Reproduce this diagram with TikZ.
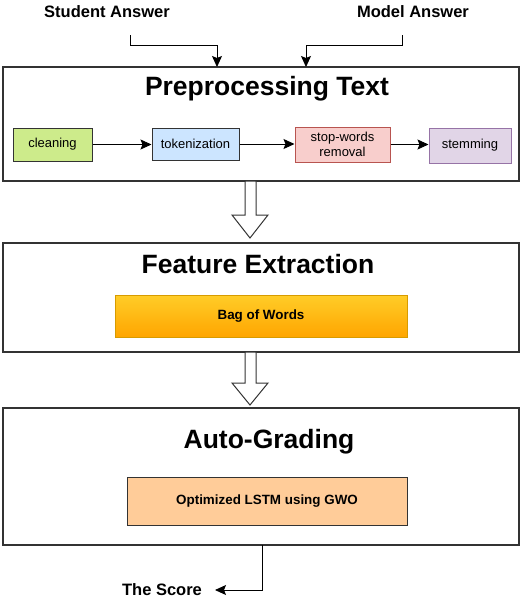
\documentclass[tikz,border=0pt]{standalone}
\usepackage{fontspec}
\setmainfont{Liberation Sans}
\usetikzlibrary{arrows.meta,calc}
\definecolor{frame}{HTML}{333333}
\definecolor{cgreen}{HTML}{CDEB8B}
\definecolor{cblue}{HTML}{CCE5FF}
\definecolor{cred}{HTML}{F8CECC}
\definecolor{credline}{HTML}{B85450}
\definecolor{cpurple}{HTML}{E1D5E7}
\definecolor{cpurpleline}{HTML}{9673A6}
\definecolor{orangetop}{HTML}{FFCD28}
\definecolor{orangebot}{HTML}{FFA500}
\definecolor{orangeline}{HTML}{D79B00}
\definecolor{peach}{HTML}{FFCC99}
\tikzset{
  bigbox/.style={draw=frame, line width=1.2pt, fill=white, rectangle, inner sep=0pt},
  smallbox/.style={draw=frame, line width=1pt, rectangle, inner sep=0pt, align=center,
    font=\fontsize{13}{15}\selectfont},
  titletext/.style={font=\fontsize{26.5}{30}\selectfont\bfseries, inner sep=0pt},
  labeltext/.style={font=\fontsize{16.5}{19}\selectfont\bfseries, inner sep=0pt},
  arr/.style={draw=black, line width=0.9pt, -{Stealth[length=11pt,width=10pt,inset=2pt]}},
  hollow/.style={draw=frame, line width=1pt, fill=white, line join=miter},
}
\begin{document}
\begin{tikzpicture}[x=1pt,y=-1pt]
\useasboundingbox[fill=white] (0,0) rectangle (530,600);

% top labels
\node[labeltext] (sa) at (107,12) {Student Answer};
\node[labeltext] (ma) at (413,12) {Model Answer};

% big boxes
\node[bigbox, minimum width=516pt, minimum height=114pt] (b1) at (261,124) {};
\node[bigbox, minimum width=516pt, minimum height=109pt] (b2) at (261,297.5) {};
\node[bigbox, minimum width=516pt, minimum height=137pt] (b3) at (261,476.5) {};

% titles
\node[titletext] (t1) at (267,89) {Preprocessing Text};
\node[titletext] (t2) at (258,264) {Feature Extraction};
\node[titletext] (t3) at (269,442) {Auto-Grading};

% preprocessing steps
\node[smallbox, fill=cgreen, minimum width=79pt, minimum height=33pt] (cl) at (52.5,144.5) {cleaning};
\node[smallbox, fill=cblue, minimum width=87pt, minimum height=32pt] (tok) at (195.5,144) {tokenization};
\node[smallbox, fill=cred, draw=credline, minimum width=95pt, minimum height=35pt] (sw) at (342.5,144.5) {stop-words\\removal};
\node[smallbox, fill=cpurple, draw=cpurpleline, minimum width=82pt, minimum height=35pt] (st) at (470,145.5) {stemming};

\draw[arr] (cl.east) -- (cl.east -| tok.west);
\draw[arr] (tok.east) -- (tok.east -| sw.west);
\draw[arr] (sw.east) -- (sw.east -| st.west);

% bag of words
\node[smallbox, draw=orangeline, top color=orangetop, bottom color=orangebot,
  minimum width=292pt, minimum height=42pt, font=\fontsize{13.4}{15}\selectfont\bfseries] (bow) at (261,316) {Bag of Words};

% LSTM
\node[smallbox, fill=peach, minimum width=280pt, minimum height=48pt,
  font=\fontsize{13.4}{15}\selectfont\bfseries] (lstm) at (267,501) {Optimized LSTM using GWO};

% inputs
\coordinate (sa1) at (130,35);
\coordinate (ma1) at (402,35);
\draw[arr] (sa1) -- (130,45) -| (217,67);
\draw[arr] (ma1) -- (402,45) -| (306,67);

% hollow arrows
\draw[hollow] (245,181) -- (256,181) -- (256,215) -- (268,215) -- (250,238) -- (232,215) -- (245,215) -- cycle;
\draw[hollow] (245,352) -- (256,352) -- (256,383) -- (268,383) -- (250,405) -- (232,383) -- (245,383) -- cycle;

% output
\node[labeltext] (sc) at (162,590) {The Score};
\draw[arr] (262,545) -- (262,590) -- (sc.east -| 215,590);
\end{tikzpicture}
\end{document}
